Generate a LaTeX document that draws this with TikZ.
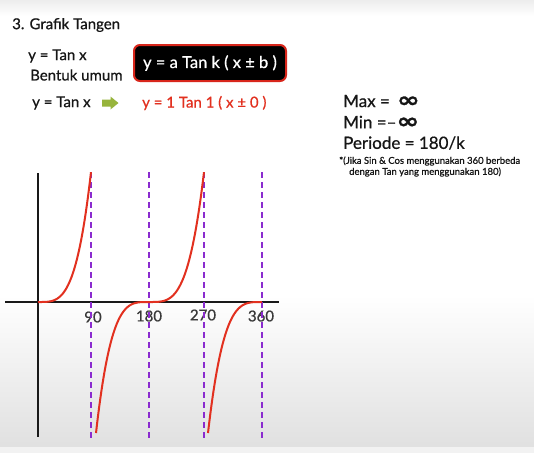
\documentclass[tikz,border=0pt]{standalone}
\usepackage{fontspec}
\usepackage{graphicx}
\setmainfont{Lato}[FakeBold=0.7]
\newfontfamily\symfont{DejaVu Sans}[FakeBold=1]
\definecolor{tanred}{HTML}{E2301F}
\definecolor{dashpurple}{HTML}{8A2BCF}
\definecolor{arrowgreen}{HTML}{97B43C}
\definecolor{boxred}{HTML}{D8261B}
\definecolor{inkgray}{HTML}{161616}
\newcommand{\biginf}{\scalebox{1.3}[1]{\symfont\bfseries\fontsize{21}{17}\selectfont ∞}}
\begin{document}
\begin{tikzpicture}[x=1pt,y=-1pt,
  txt/.style={anchor=west, inner sep=0pt, text=inkgray},
  bigtxt/.style={txt, font=\fontsize{15}{15}\selectfont},
  righttxt/.style={txt, font=\fontsize{17}{17}\selectfont},
  notetxt/.style={txt, font=\fontsize{9.5}{9.5}\selectfont},
  ticklbl/.style={inner sep=0pt, text=inkgray!85, font=\fontsize{15}{15}\selectfont},
  axisline/.style={line width=2pt, black!90},
  asymline/.style={line width=2.2pt, dashpurple, dash pattern=on 6pt off 4pt},
  tancurve/.style={line width=2pt, tanred},
  blockarrow/.style={fill=arrowgreen}]
\useasboundingbox (0,0) rectangle (534,453);
% background
\fill[white] (0,0) rectangle (534,453);
\shade[top color=white, bottom color=black!12] (0,295) rectangle (534,447);
\fill[black!5] (0,447) rectangle (534,453);
\shade[top color=black!7, bottom color=white] (0,0) rectangle (534,16);

% header texts
\node[bigtxt] (title) at (12,25) {3. Grafik Tangen};
\node[bigtxt] (ytan1) at (28,56) {y = Tan x};
\node[bigtxt] (bentuk) at (30,75) {Bentuk umum};
\node[draw=boxred, line width=2pt, fill=black, rounded corners=6pt,
      minimum width=152pt, minimum height=36pt, inner sep=0pt, text=white,
      font=\fontsize{16.5}{16.5}\selectfont] (general) at (210,63) {y = a Tan k ( x ± b )};
\node[bigtxt] (ytan2) at (32,103) {y = Tan x};
\node[bigtxt, text=tanred] (special) at (142,103) {y = 1 Tan 1 ( x ± 0 )};
% green block arrow
\fill[blockarrow] (102,99.5) -- (110.5,99.5) -- (110.5,96.5) -- (118.5,103)
  -- (110.5,109.5) -- (110.5,106.5) -- (102,106.5) -- cycle;

% right texts
\node[righttxt] (max) at (343,101) {Max = \,\biginf};
\node[righttxt] (min) at (343,122) {Min =–\biginf};
\node[righttxt] (period) at (343,143) {Periode = 180/k};
\node[notetxt] (note1) at (339,161) {*(Jika Sin \& Cos menggunakan 360 berbeda};
\node[notetxt] (note2) at (349,172) {dengan Tan yang menggunakan 180)};

% tick labels
\node[ticklbl] (l90) at (93,317) {90};
\node[ticklbl] (l180) at (149,316) {180};
\node[ticklbl] (l270) at (203,315) {270};
\node[ticklbl] (l360) at (261,316) {360};

% axes
\coordinate (xl) at (5,302);
\coordinate (xr) at (279,302);
\coordinate (yt) at (38,173);
\coordinate (yb) at (38,437);
\draw[axisline] (xl) -- (xr);
\draw[axisline] (yt) -- (yb);

% asymptotes
\foreach \n/\xx in {a/91,b/149,c/204,d/262}{
  \coordinate (\n top) at (\xx,172);
  \coordinate (\n bot) at (\xx,438);
  \draw[asymline] (\n top) -- (\n bot);
}

% tangent branches
\draw[tancurve] plot[domain=0:1, samples=50] ({38+53*\x},{302-130*(\x)^3.6});
\draw[tancurve] plot[domain=0:1, samples=50] ({96+53*\x},{302+131*(1-\x)^3.6});
\draw[tancurve] plot[domain=0:1, samples=50] ({149+55*\x},{302-130*(\x)^3.6});
\draw[tancurve] plot[domain=0:1, samples=50] ({208+54*\x},{302+131*(1-\x)^3.6});
\end{tikzpicture}
\end{document}
